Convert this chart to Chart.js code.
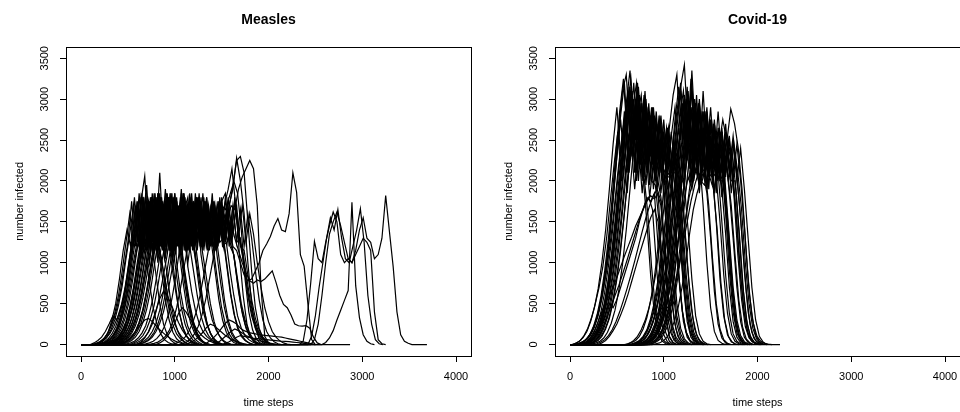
<!DOCTYPE html>
<html>
<head>
<meta charset="utf-8">
<script src="https://cdn.jsdelivr.net/npm/chart.js@4.4.1/dist/chart.umd.min.js"></script>
<style>
  html, body { margin: 0; padding: 0; background: #fff; overflow: hidden; }
  body { width: 960px; height: 412px; position: relative; }
  #measles { position: absolute; left: 0; top: 0; }
  #covid { position: absolute; left: 480px; top: 0; }
</style>
</head>
<body>
<canvas id="measles" width="480" height="412"></canvas>
<canvas id="covid" width="490" height="412"></canvas>
<script>
// axis ticks (same for both panels)
const xTicks = [0, 1000, 2000, 3000, 4000];
const yTicks = [0, 500, 1000, 1500, 2000, 2500, 3000, 3500];

// every run is sampled each 40 time steps from its start time; runs begin at (0, 0)
const timeStep = 40;

// ---- Measles ----
const measlesMainStarts = [160, 130, 200, 100, 180, 240, 150, 260, 220, 300, 140, 350, 190, 280, 400, 230,
  320, 170, 450, 260, 210, 300, 500, 600, 700, 420, 580, 520, 380, 240, 950, 1050,
  120, 270, 330, 190, 380, 230, 560, 650, 160, 310, 210, 340, 260];
const measlesMainRuns = [
  [0,8,20,45,80,140,230,380,600,900,1250,1400,1750,2060,1300,1800,1200,1750,1150,850,500,280,140,60,20,0],
  [0,10,30,70,150,300,500,800,1150,1400,1200,1800,1250,1850,1150,1750,1300,1800,1200,1700,1350,1850,1100,1650,1000,650,380,200,100,40,10,0],
  [0,5,15,35,60,100,170,280,450,700,1000,1300,1700,1200,1850,1300,2100,1250,1750,1150,1800,1300,1700,1200,1850,1250,1650,1100,800,500,300,180,100,50,20,5,0],
  [0,20,50,90,160,250,350,300,420,600,900,1250,1700,1200,1800,1350,1750,1150,1300,900,550,300,150,70,30,10,0],
  [0,10,25,55,110,200,340,550,850,1150,1500,1200,1800,1250,1700,1150,1850,1300,1750,1200,1650,1350,1800,1150,1700,1250,1850,1300,1650,1200,1550,1100,750,450,250,130,60,25,5,0],
  [0,5,15,30,60,110,190,320,500,780,1100,1650,1200,1750,1300,1850,1150,1600,1200,800,450,230,110,50,20,0],
  [0,15,40,80,140,220,330,480,700,1000,1300,1700,1250,1800,1150,1750,1300,1850,1200,1650,1350,1800,1250,1900,1150,1700,1300,1750,1200,1800,1250,1700,1350,1650,1200,1250,900,600,350,200,110,60,30,10,0],
  [0,10,20,40,70,120,200,320,520,800,1100,1350,1800,1200,1750,1300,1900,1250,1700,1000,650,400,220,120,60,25,0],
  [0,5,10,25,50,90,160,270,430,650,950,1250,1750,1300,1850,1200,1700,1350,1800,1150,1750,1250,1650,1800,1200,1700,1300,1850,1250,1650,1150,1750,1300,1800,1200,1700,1250,1300,950,600,350,200,100,40,10,0],
  [0,10,25,50,90,150,250,400,620,900,1200,1750,1300,1850,1200,1700,1150,1800,1300,1650,1200,1750,1300,1050,700,420,250,140,70,30,10,0],
  [0,20,45,90,170,280,430,650,950,1250,1750,1200,1850,1300,1950,1250,1700,1150,1800,1300,1750,1200,1650,1150,800,500,280,150,70,30,10,0],
  [0,5,15,30,60,100,170,280,450,700,1000,1300,1750,1250,1800,1150,1700,1300,1850,1200,1650,1350,1800,1250,1750,1150,1700,1300,1650,1350,1000,650,380,200,100,50,20,5,0],
  [0,10,30,60,110,190,300,460,680,950,1200,1650,1150,1700,1250,1600,1200,950,700,450,280,170,100,60,30,10,0],
  [0,8,20,40,80,140,240,390,600,880,1150,1400,1750,1250,1800,1200,1700,1350,1850,1250,1750,1150,1650,1300,1800,1200,1700,1300,1850,1150,1700,1350,1650,1250,1800,1300,1700,1250,1600,1350,1000,700,450,280,160,90,45,20,5,0],
  [0,10,25,50,90,160,260,420,650,950,1250,1750,1300,1850,1200,1700,1300,1800,1150,1200,900,600,350,200,110,55,25,5,0],
  [0,5,15,35,70,130,220,360,560,850,1150,1700,1200,1800,1300,1650,1150,1750,1300,1100,750,450,250,130,60,25,0],
  [0,10,20,45,85,150,250,400,620,900,1200,1650,1250,1800,1200,1750,1300,1850,1250,1700,1150,1800,1350,1650,1200,1750,1300,1700,1150,1800,1250,1650,1350,1750,1350,1100,800,500,300,170,90,40,15,0],
  [0,15,35,70,130,220,350,540,800,1100,1350,1750,1200,1850,1300,1700,1200,1800,1250,1650,1300,1600,1100,750,450,260,140,70,30,10,0],
  [0,10,20,40,80,140,230,380,580,850,1150,1400,1800,1250,1750,1300,1850,1200,1700,1300,1800,1250,1650,1350,1750,1200,1700,1300,1800,1250,1650,1300,1100,800,500,300,170,90,40,15,0],
  [0,10,25,50,90,160,270,430,660,950,1200,1650,1150,1700,1250,1050,700,420,240,130,70,30,10,0],
  [0,10,30,60,120,220,380,600,900,1200,1650,1250,1100,750,450,250,130,60,25,5,0],
  [0,5,15,30,60,110,190,310,480,700,950,1150,1500,1100,1600,1200,1550,1100,1450,1200,1350,950,650,420,260,160,100,60,30,10,0],
  [0,10,30,60,110,190,310,480,720,1000,1250,1700,1300,1800,1200,1750,1350,1850,1250,1700,1150,1800,1300,1650,1200,1750,1850,1300,1700,1250,1650,1200,1600,1300,900,550,300,160,80,35,10,0],
  [0,10,25,50,90,160,260,400,600,850,1100,1600,1200,1700,1250,1750,1150,1650,1300,1700,1200,1650,1250,1300,950,600,350,190,100,45,15,0],
  [0,5,15,30,60,100,170,280,450,680,950,1200,1650,1250,1750,1300,1800,1200,1700,1350,1800,1250,1650,1350,1700,1200,1150,850,550,320,180,90,40,10,0],
  [0,10,25,50,90,160,270,430,650,950,1250,1700,1200,1800,1300,1750,1150,1850,1250,1700,1350,1800,1200,1650,1300,1750,1250,1700,1650,1800,1950,2250,2300,2100,1500,900,450,200,80,25,0],
  [0,10,20,45,85,150,250,400,620,900,1200,1650,1250,1800,1150,1750,1300,1850,1200,1700,1350,1650,1200,1750,1300,1700,1900,2280,2000,1600,1000,500,200,70,20,0],
  [0,10,25,50,90,150,250,400,600,850,1100,1550,1150,1700,1250,1650,1150,1750,1300,1600,1200,1700,1250,1650,1350,1600,1450,1700,1650,1900,2050,2150,2250,2150,1700,700,100,20,0],
  [0,10,25,50,90,160,270,420,640,900,1150,1350,1700,1250,1800,1200,1650,1350,1750,1200,1700,1300,1800,1150,1650,1300,1700,1250,1600,1350,1500,1200,1150,
   1000,850,780,800,900,1000,1150,1230,1320,1450,1540,1400,1380,1600,2100,1860,1100,960,500,60,0],
  [0,10,25,50,95,170,280,450,680,950,1200,1400,1750,1250,1800,1200,1700,1300,1850,1150,1650,1350,1750,1200,1700,1300,1800,1250,1650,1200,1700,1300,1600,1250,1500,1300,1150,
   1000,880,780,750,790,770,800,850,900,760,600,490,450,360,250,230,225,230,200,90,20,0],
  [0,10,25,50,90,160,260,400,600,850,1100,1350,1550,1400,1650,1500,1750,2000,1850,1400,800,400,180,70,20,0],
  [0,15,35,70,130,220,360,550,800,1050,1300,1500,1700,1900,2150,1700,1100,600,250,90,30,0],
  [0,15,35,70,130,230,380,600,900,1250,1600,1250,1750,1150,1700,1300,1200,850,500,250,120,50,15,0],
  [0,10,25,50,95,170,290,460,700,1000,1300,1750,1200,1800,1250,1700,1350,1850,1200,1650,1300,1700,1250,1600,1150,800,450,230,110,45,15,0],
  [0,8,20,40,80,140,240,390,600,880,1200,1650,1200,1750,1300,1800,1150,1700,1250,1850,1300,1650,1200,1750,1300,1700,1150,1600,1250,900,550,300,150,70,25,5,0],
  [0,10,30,65,120,210,350,550,820,1150,1450,1800,1250,1700,1350,1850,1200,1750,1300,1650,1200,1700,1250,1800,1150,1650,1300,1750,1200,1650,1250,900,550,300,150,70,25,5,0],
  [0,10,25,50,90,160,270,430,660,950,1250,1600,1200,1750,1150,1700,1300,1200,900,600,350,180,90,40,10,0],
  [0,12,30,60,110,190,320,510,780,1100,1400,1750,1200,1800,1300,1700,1250,1850,1150,1700,1300,1750,1200,1650,1350,1800,1250,1700,1300,1650,1200,1750,1300,1650,1250,1100,750,450,250,130,60,20,0],
  [0,10,25,50,90,160,260,420,640,920,1200,1650,1250,1750,1300,1800,1200,1700,1350,1650,1250,1750,1300,1700,1200,1600,1300,1000,650,380,200,100,45,15,0],
  [0,8,20,40,75,130,220,360,560,830,1150,1550,1200,1700,1300,1650,1200,1750,1250,1600,1100,750,450,250,120,50,15,0],
  [0,20,50,100,180,300,480,720,1050,1350,1700,1250,1800,1300,1650,1150,1750,1200,1700,1250,1600,1150,1550,1100,800,500,280,140,60,20,0],
  [0,10,25,50,90,160,270,430,650,950,1250,1700,1150,1800,1250,1650,1300,1750,1200,1700,1300,1650,1150,1750,1250,1650,1300,1700,1200,1600,1250,1550,1200,1100,800,500,300,160,80,30,10,0],
  [0,10,25,55,100,180,300,480,730,1000,1250,1050,1450,1000,1400,1100,1500,1050,1350,950,650,380,200,100,40,10,0],
  [0,8,20,40,75,135,230,370,570,830,1100,1450,1000,1500,1100,1400,1050,1550,1150,1450,1000,1350,1100,800,500,280,140,60,20,0],
  [0,12,30,60,110,200,330,520,780,1050,1300,1600,1100,1550,1200,1650,1050,1500,1150,1600,1100,1450,1200,1550,1050,1400,1100,800,500,280,140,60,20,0]
];
const measlesSmallStarts = [400, 800, 1100, 600, 1400, 1300, 1500, 2830];
const measlesSmallRuns = [
  [0,15,40,80,130,190,250,300,320,280,230,180,140,100,70,45,25,10,0],
  [0,20,50,100,170,260,380,450,400,320,250,180,120,80,50,30,15,5,0],
  [0,10,30,60,100,150,210,250,230,190,150,110,80,55,35,20,10,0],
  [0,30,80,160,280,420,560,650,600,500,380,270,180,110,60,30,10,0],
  [0,15,40,80,120,160,190,170,140,110,90,70,55,40,30,20,12,5,0],
  [0,20,50,90,140,200,260,300,280,250,200,170,150,140,130,120,115,110,105,100,95,90,80,70,60,50,40,30,20,10,0],
  [0,15,35,60,90,110,100,90,80,75,70,65,60,55,50,45,40,38,35,30,25,20,15,10,5,0],
  [0,0]
];
const measlesLateStarts = [2330, 2420, 2570, 2450];
const measlesLateRuns = [
  [0,40,300,750,1260,1050,1000,1250,1450,1620,1500,1100,1000,1050,1000,1150,1400,1550,1300,1250,1050,1100,1300,1820,1380,950,400,120,40,15,0,0,0,0,0],
  [0,100,350,700,1000,1300,1550,1400,1650,1300,1050,1000,1200,1400,1660,1250,600,250,60,10,0],
  [0,25,80,170,300,420,540,660,1740,720,330,120,40,10,0],
  [0,60,250,600,1000,1350,1500,1620,1450,1250,1050,1000,1100,1200,1300,1250,1150,400,60,10,0]
];

// ---- Covid-19 ----
const covidFirstStarts = [40, 80, 120, 60, 150, 90, 200, 30, 130, 180, 70, 110, 100, 200, 250, 180, 300,
  50, 100, 160, 20, 140, 110, 60, 90, 170, 130];
const covidFirstRuns = [
  [0,10,25,50,100,180,300,480,750,1100,1550,2100,2650,3100,3300,2600,3200,2500,2950,2350,2850,2300,2750,2200,2600,2100,2050,1500,850,400,150,50,15,0],
  [0,8,20,45,90,170,290,470,730,1080,1500,2000,2500,2950,3350,2700,3200,2500,3100,2400,2900,2300,2750,2200,2650,2100,2300,1700,1000,450,170,60,20,0],
  [0,10,30,60,120,220,370,580,880,1250,1700,2200,2700,3050,2400,3150,2500,2950,2300,2850,2200,2750,2400,2600,2100,2100,1550,900,420,160,55,15,0],
  [0,15,35,70,130,230,380,600,900,1300,1800,2300,2750,2200,2900,2300,2750,2150,2700,2100,2500,2050,2450,2000,2000,1450,800,350,130,40,10,0],
  [0,10,25,55,110,200,340,540,820,1180,1600,2100,2550,2900,3200,2500,3050,2400,2900,2250,2800,2300,2650,2150,2500,2050,1500,850,380,140,45,10,0],
  [0,12,30,65,130,240,400,640,960,1350,1800,2250,2650,2100,2800,2200,2700,2050,2650,2000,2450,2050,1800,1200,600,250,90,30,0],
  [0,8,20,40,80,150,260,420,660,980,1400,1900,2400,2800,3050,2400,2950,2300,2850,2200,2750,2150,2600,2100,2050,1500,850,400,150,50,15,0],
  [0,20,50,110,200,330,500,700,950,1300,1750,2200,2600,2000,2700,2100,2550,2000,2450,2050,1600,950,450,180,60,20,0],
  [0,10,30,70,140,260,430,660,980,1400,1900,2450,2900,3250,2600,3150,2500,3000,2400,2900,2300,2800,2250,2650,2150,2500,2150,1650,1000,480,190,65,20,0],
  [0,10,25,50,100,190,320,520,800,1150,1600,2100,2600,2950,2300,2850,2200,2750,2100,2600,2050,2150,1700,1050,500,200,70,20,0],
  [0,15,40,80,150,260,420,630,900,1250,1650,2100,2500,2850,2200,2800,2100,2650,2050,2500,2000,1950,1500,900,420,160,50,15,0],
  [0,10,25,55,110,210,360,570,860,1250,1700,2200,2700,3150,2500,3050,2400,2950,2300,2850,2250,2700,2150,2600,2100,2450,2150,1900,1350,750,330,120,40,10,0],
  [0,15,40,90,170,280,400,520,600,700,820,950,1080,1200,1320,1450,1550,1650,1750,1820,1780,1850,1000,350,90,20,0],
  [0,20,60,130,230,350,480,600,720,860,1000,1150,1300,1450,1600,1720,1800,1650,1000,400,120,30,0],
  [0,10,30,60,110,180,280,400,540,690,850,1020,1200,1380,1550,1700,1820,1900,1750,1100,450,130,30,0],
  [0,30,80,160,260,380,500,450,550,700,850,1000,1150,1300,1500,1650,1800,1750,1850,1200,500,150,40,0],
  [0,20,50,100,170,250,360,480,620,780,940,1100,1250,1400,1550,1650,1500,900,350,100,25,0],
  [0,12,30,60,120,220,370,590,900,1300,1800,2350,2850,3250,2550,3150,2450,3000,2350,2900,2250,2800,2150,2450,1800,1100,500,190,60,15,0],
  [0,10,25,50,100,190,330,530,820,1200,1650,2150,2650,3100,2450,3000,2350,2950,2250,2800,2200,2700,2100,2550,2050,2400,2000,1500,850,380,140,45,10,0],
  [0,10,25,55,105,195,330,530,810,1170,1620,2100,2600,3000,2350,2950,2250,2850,2200,2700,2100,2600,2050,2050,1500,850,400,150,50,15,0],
  [0,15,40,85,160,280,450,680,1000,1400,1900,2450,2900,2300,2850,2200,2700,2100,2550,2050,1500,850,380,140,45,10,0],
  [0,10,30,60,115,210,350,560,850,1220,1680,2200,2700,3100,2500,3050,2400,2900,2300,2800,2250,2650,2150,2550,2100,2350,2050,1950,1400,800,350,130,40,10,0],
  [0,10,25,50,100,180,310,500,780,1150,1600,2100,2600,3000,2300,2950,2200,2800,2100,2650,2000,2500,1950,1400,750,300,100,30,0],
  [0,12,30,60,115,210,350,560,860,1250,1750,2300,2800,3200,2450,3100,2350,2900,2250,2750,2150,2550,2100,2400,1900,1250,650,250,80,20,0],
  [0,10,25,55,105,190,320,510,790,1150,1550,1950,2350,1850,2500,1900,2450,1850,2350,1800,2250,1850,1700,1100,550,200,60,15,0],
  [0,10,25,50,100,180,300,490,760,1100,1500,1950,2400,2800,2000,2700,1950,2550,1900,2450,1850,2350,1900,2250,1800,1300,700,280,90,25,0],
  [0,12,30,60,115,205,340,540,830,1200,1650,2150,2650,3050,2100,2900,2000,2750,1950,2600,1900,2500,1950,2400,1850,1350,700,280,90,25,0]
];
const covidSecondStarts = [620, 650, 700, 600, 750, 680, 800, 580, 720, 660, 760, 830, 875, 850, 780, 820, 800,
  700, 740, 640, 780, 690, 730, 700, 760, 660, 2200];
const covidSecondRuns = [
  [0,10,25,50,100,180,320,520,800,1150,1550,2000,2450,2850,3150,3420,2600,3100,2400,2950,2300,2850,2250,2700,2200,2600,1900,1300,700,300,110,35,10,0],
  [0,8,20,45,90,170,290,470,730,1080,1500,1950,2400,2800,3100,2450,3250,2400,2950,2300,2850,2200,2700,2150,2600,2100,2500,2100,1600,950,450,170,55,15,0],
  [0,12,30,65,130,240,400,640,960,1350,1800,2250,2700,3000,2400,3200,2350,2900,2250,2800,2150,2650,2100,2150,1600,900,400,140,45,10,0],
  [0,20,50,100,180,290,440,640,900,1250,1650,2100,2550,2900,2300,2950,2250,2800,2150,2700,2100,2150,1700,1050,500,190,60,15,0],
  [0,10,25,55,110,200,340,540,820,1180,1600,2050,2500,2900,2300,3050,2250,2850,2200,2750,2150,2650,2100,2550,2050,2450,2100,1650,1000,500,200,70,20,0],
  [0,15,35,70,140,250,410,640,950,1350,1800,2250,2650,2100,2800,2150,2700,2100,2600,2050,2450,2100,1500,800,350,120,35,10,0],
  [0,10,30,60,120,220,370,590,900,1300,1750,2200,2600,2050,2750,2100,2650,2050,2600,2000,2550,2050,2450,2000,2000,1400,750,320,110,35,10,0],
  [0,10,25,50,100,190,330,530,820,1200,1650,2150,2650,3050,3300,2500,3000,2400,2900,2300,2800,2250,2700,2150,2600,2100,1500,850,380,130,40,10,0],
  [0,8,20,40,80,150,260,430,680,1000,1400,1850,2300,2700,2150,2900,2200,2750,2100,2650,2050,2550,2000,2450,2100,1700,1100,550,220,70,20,0],
  [0,15,40,80,150,260,420,650,960,1350,1800,2250,2750,3200,2500,3050,2400,2850,2300,1700,1000,450,160,50,15,0],
  [0,10,25,50,100,190,330,530,820,1200,1650,2100,2500,2000,2600,2050,2550,2000,2500,1950,2400,2000,2000,1450,800,350,120,35,10,0],
  [0,10,25,55,110,200,340,540,820,1150,1500,1800,2000,2150,2050,2250,2100,2350,2200,2450,2750,2500,2300,1800,1100,550,220,80,30,10,0],
  [0,10,20,45,90,170,290,460,700,1000,1350,1650,1850,2000,1950,2100,2050,2200,2150,2300,2500,2880,2700,2400,1900,1200,600,260,100,40,15,5,0],
  [0,20,60,130,230,380,560,780,1000,1250,1500,1750,1950,2100,2000,2200,2050,1900,1400,750,300,100,30,0],
  [0,15,40,90,170,290,450,650,900,1200,1500,1800,2050,1900,2150,1950,2100,1850,1300,650,250,80,20,0],
  [0,10,30,60,120,220,370,580,870,1250,1700,2150,2550,2950,2300,3100,2350,2900,2250,2850,2200,2700,2150,2550,2050,1550,900,400,150,50,15,0],
  [0,40,120,250,400,500,450,520,700,950,1250,1600,1950,2300,2600,2400,2650,2350,2200,2400,2100,1950,1400,750,300,100,25,0],
  [0,10,25,50,100,185,320,520,800,1160,1600,2100,2600,3050,2450,3350,2500,3000,2350,2900,2250,2750,2200,2650,2100,2500,2050,1500,850,380,130,40,10,0],
  [0,10,30,60,115,210,350,560,850,1230,1680,2150,2650,3100,2400,2950,2300,2850,2250,2750,2150,2650,2100,2600,2050,2500,2000,2400,1900,1300,700,300,100,30,0],
  [0,12,30,60,120,220,370,590,900,1300,1750,2250,2750,3150,2450,3000,2350,2850,2250,2750,2150,2650,2100,2050,1500,850,380,130,40,10,0],
  [0,10,25,50,100,180,310,500,770,1120,1550,2000,2450,2850,2250,2950,2200,2800,2150,2700,2100,2600,2050,2550,2000,2450,2000,1450,800,350,120,35,10,0],
  [0,10,25,50,100,185,315,510,790,1150,1600,2050,2550,2950,2250,2900,2150,2800,2100,2700,2050,2600,2000,2500,1950,1400,750,300,100,30,0],
  [0,12,30,60,120,215,360,570,870,1260,1720,2200,2700,3150,2400,3000,2300,2850,2200,2750,2150,2600,2100,2500,2000,2350,1900,1300,650,250,80,20,0],
  [0,10,25,50,100,180,310,500,780,1130,1550,2000,2400,1900,2600,1950,2500,1850,2450,1900,2400,1850,2350,1800,2300,1850,1300,700,280,90,25,0],
  [0,10,25,55,105,190,320,520,800,1160,1600,2050,2500,2900,2000,2800,1950,2700,1900,2600,1850,2550,1900,2450,1850,2350,1800,1250,650,250,80,20,0],
  [0,12,30,60,115,205,345,550,840,1220,1680,2150,2650,3100,2050,2950,2000,2800,1950,2650,1900,2550,1850,2450,1900,1350,700,280,90,25,0],
  [0,0]
];

const FONT = '"Liberation Sans", Arial, Helvetica, sans-serif';

function buildDatasets(starts, runs) {
  return runs.map((values, k) => ({
    data: [{ x: 0, y: 0 }].concat(values.map((v, i) => ({ x: starts[k] + i * timeStep, y: v }))),
    borderColor: '#000',
    borderWidth: 1.2,
    pointRadius: 0,
    fill: false,
    tension: 0
  }));
}

// R-style box around the plot region plus vertical y tick labels
const framePlugin = {
  id: 'frame',
  afterDraw(chart) {
    const { ctx, chartArea: a, scales: { y } } = chart;
    ctx.save();
    ctx.strokeStyle = '#000';
    ctx.lineWidth = 1;
    ctx.strokeRect(Math.round(a.left) + 0.5, Math.round(a.top) + 0.5,
      Math.round(a.right - a.left), Math.round(a.bottom - a.top));
    ctx.fillStyle = '#000';
    ctx.font = '11px ' + FONT;
    ctx.textAlign = 'center';
    ctx.textBaseline = 'middle';
    yTicks.forEach(v => {
      ctx.save();
      ctx.translate(a.left - 21, y.getPixelForValue(v));
      ctx.rotate(-Math.PI / 2);
      ctx.fillText(String(v), 0, 0);
      ctx.restore();
    });
    ctx.restore();
  }
};

function makeChart(id, title, datasets, padLeft, padRight) {
  const tickGrid = { drawOnChartArea: false, drawTicks: true, tickLength: 6, tickColor: '#000', lineWidth: 1 };
  return new Chart(document.getElementById(id), {
    type: 'line',
    data: { datasets },
    options: {
      responsive: false,
      animation: false,
      devicePixelRatio: 1,
      events: [],
      parsing: false,
      normalized: true,
      layout: { padding: { left: padLeft, right: padRight, top: 0, bottom: 0 } },
      plugins: {
        legend: { display: false },
        tooltip: { enabled: false },
        title: {
          display: true, text: title, fullSize: false, color: '#000',
          font: { family: FONT, size: 14, weight: 'bold' },
          padding: { top: 12, bottom: 18 }
        }
      },
      scales: {
        x: {
          type: 'linear', min: -160, max: 4160,
          afterBuildTicks: s => { s.ticks = xTicks.map(v => ({ value: v })); },
          afterFit: s => { s.height = 56; },
          grid: tickGrid,
          border: { display: false },
          ticks: { color: '#000', font: { family: FONT, size: 11 }, padding: 8, maxRotation: 0, autoSkip: false,
                   callback: v => String(v) },
          title: { display: true, text: 'time steps', color: '#000', font: { family: FONT, size: 11 },
                   padding: { top: 0, bottom: 2 } }
        },
        y: {
          type: 'linear', min: -140, max: 3640,
          afterBuildTicks: s => { s.ticks = yTicks.map(v => ({ value: v })); },
          afterFit: s => { s.width = 66; },
          grid: tickGrid,
          border: { display: false },
          ticks: { display: false },
          title: { display: true, text: 'number infected', color: '#000', font: { family: FONT, size: 11 },
                   padding: { top: 13, bottom: 0 } }
        }
      }
    },
    plugins: [framePlugin]
  });
}

makeChart('measles', 'Measles',
  buildDatasets(measlesMainStarts, measlesMainRuns)
    .concat(buildDatasets(measlesSmallStarts, measlesSmallRuns))
    .concat(buildDatasets(measlesLateStarts, measlesLateRuns)),
  0, 9);

makeChart('covid', 'Covid-19',
  buildDatasets(covidFirstStarts, covidFirstRuns)
    .concat(buildDatasets(covidSecondStarts, covidSecondRuns)),
  9, 10);
</script>
</body>
</html>
